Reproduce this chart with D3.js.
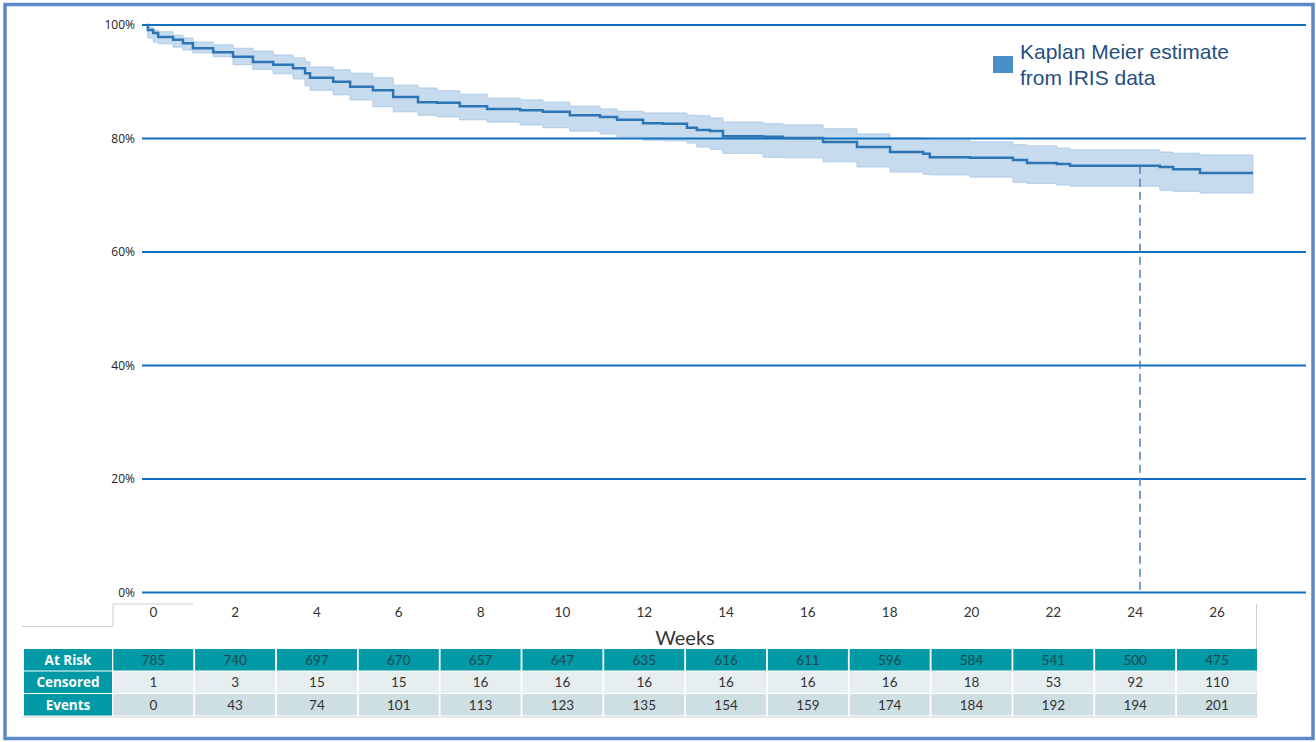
<!DOCTYPE html>
<meta charset="utf-8">
<script src="https://d3js.org/d3.v7.min.js"></script>
<style>
  body { margin: 0; background: #fff; }
  svg { display: block; }
</style>
<body>
<svg width="1316" height="742"></svg>
<script>
  // ---- data ----
  var weeks = [0, 0.02, 0.15, 0.27, 0.63, 0.87, 1.11, 1.6, 2.08, 2.56,
    3.05, 3.53, 3.82, 3.94, 4.5, 4.91, 5.46, 5.95, 6.55, 7.01,
    7.56, 8.22, 9.02, 9.57, 10.22, 10.95, 11.36, 11.99, 12.47, 13.05,
    13.29, 13.61, 13.92, 14.89, 15.37, 16.34, 17.16, 17.96, 18.76, 18.92,
    19.89, 20.93, 21.27, 21.99, 22.31, 24.48, 24.8, 25.45];
  var lastWeek = 26.73;
  var survival = [100, 99.1, 98.6, 97.9, 97.4, 96.8, 95.9, 95.2, 94.4, 93.5,
    93.0, 92.4, 91.5, 90.7, 90.0, 89.1, 88.5, 87.3, 86.4, 86.3,
    85.7, 85.2, 85.0, 84.7, 84.1, 83.8, 83.3, 82.7, 82.6, 81.9,
    81.5, 81.3, 80.4, 80.3, 80.1, 79.4, 78.5, 77.6, 77.3, 76.7,
    76.6, 76.2, 75.7, 75.5, 75.2, 75.0, 74.6, 73.9];
  var upper = [100, 99.6, 99.1, 98.8, 98.2, 97.7, 97.0, 96.5, 95.9, 95.4,
    94.7, 94.2, 93.5, 92.6, 92.1, 91.5, 90.7, 89.4, 88.9, 88.4,
    87.8, 87.1, 86.8, 86.4, 85.7, 85.2, 84.8, 84.5, 84.5, 84.1,
    84.0, 83.6, 82.9, 82.6, 82.4, 81.7, 80.8, 80.1, 79.9, 79.7,
    79.4, 78.9, 78.7, 78.3, 78.0, 77.6, 77.4, 77.1];
  var lower = [100, 97.7, 97.0, 96.7, 96.1, 95.6, 95.1, 94.4, 93.0, 92.2,
    91.4, 90.5, 89.3, 88.5, 87.7, 86.8, 85.6, 84.7, 84.1, 83.8,
    83.3, 82.9, 82.4, 81.9, 81.3, 80.8, 80.3, 79.7, 79.6, 79.2,
    78.5, 78.1, 77.4, 76.7, 76.6, 75.9, 75.0, 74.1, 73.7, 73.6,
    73.2, 72.3, 72.1, 71.8, 71.6, 70.9, 70.7, 70.4];

  var yTicks = [0, 20, 40, 60, 80, 100];
  var weekLabels = [0, 2, 4, 6, 8, 10, 12, 14, 16, 18, 20, 22, 24, 26];
  var rowNames = ['At Risk', 'Censored', 'Events'];
  var atRisk   = [785, 740, 697, 670, 657, 647, 635, 616, 611, 596, 584, 541, 500, 475];
  var censored = [1, 3, 15, 15, 16, 16, 16, 16, 16, 16, 18, 53, 92, 110];
  var events   = [0, 43, 74, 101, 113, 123, 135, 154, 159, 174, 184, 192, 194, 201];
  var markWeek = 24;
  var legendLines = ['Kaplan Meier estimate', 'from IRIS data'];

  var svg = d3.select('svg');

  var x = d3.scaleLinear().domain([0, 27]).range([147, 1264.1]);
  var y = d3.scaleLinear().domain([0, 100]).range([592.5, 25]);

  var km = weeks.map(function(w, i){
    return {w: w, s: survival[i], lo: lower[i], hi: upper[i]};
  });
  var last = km[km.length - 1];
  km.push({w: lastWeek, s: last.s, lo: last.lo, hi: last.hi});

  /* ----------- frame ----------- */
  svg.append('rect')
    .attr('x', 5).attr('y', 4.5)
    .attr('width', 1308).attr('height', 734)
    .attr('fill', 'none')
    .attr('stroke', '#5b89c6')
    .attr('stroke-width', 3.5);

  /* ----------- confidence band ----------- */
  var band = d3.area()
    .curve(d3.curveStepAfter)
    .x(function(d){ return x(d.w); })
    .y0(function(d){ return y(d.lo); })
    .y1(function(d){ return y(d.hi); });

  svg.append('path')
    .datum(km)
    .attr('d', band)
    .attr('fill', '#c6dbed')
    .attr('stroke', '#aecbe6')
    .attr('stroke-width', 1);

  /* ----------- grid + y labels ----------- */
  svg.selectAll('line.grid').data(yTicks).enter()
    .append('line')
    .attr('class', 'grid')
    .attr('x1', 142).attr('x2', 1306)
    .attr('y1', function(d){ return y(d); })
    .attr('y2', function(d){ return y(d); })
    .attr('stroke', '#1170c0')
    .attr('stroke-width', 2);

  svg.selectAll('text.ylab').data(yTicks).enter()
    .append('text')
    .attr('class', 'ylab')
    .attr('x', 135)
    .attr('y', function(d){ return y(d); })
    .attr('dy', '0.35em')
    .attr('text-anchor', 'end')
    .attr('font-family', 'Open Sans, sans-serif')
    .attr('font-size', 12)
    .attr('fill', '#222')
    .text(function(d){ return d + '%'; });

  /* ----------- 24 week marker ----------- */
  var markPoint = km.filter(function(d){ return d.w <= markWeek; }).pop();
  svg.append('line')
    .attr('x1', x(markWeek)).attr('x2', x(markWeek))
    .attr('y1', y(markPoint.s))
    .attr('y2', y(0))
    .attr('stroke', '#4a7fc0')
    .attr('stroke-width', 1.5)
    .attr('stroke-dasharray', '8,5');

  /* ----------- KM line ----------- */
  var line = d3.line()
    .curve(d3.curveStepAfter)
    .x(function(d){ return x(d.w); })
    .y(function(d){ return y(d.s); });

  svg.append('path')
    .datum(km)
    .attr('d', line)
    .attr('fill', 'none')
    .attr('stroke', '#2e75b6')
    .attr('stroke-width', 2.5);

  /* ----------- legend ----------- */
  svg.append('rect')
    .attr('x', 993).attr('y', 56)
    .attr('width', 20).attr('height', 17)
    .attr('fill', '#4a90c8');

  svg.selectAll('text.leg').data(legendLines).enter()
    .append('text')
    .attr('class', 'leg')
    .attr('x', 1020)
    .attr('y', function(d, i){ return 59 + i * 26; })
    .attr('font-family', 'Liberation Sans, Arial, sans-serif')
    .attr('font-size', 21)
    .attr('fill', '#254f80')
    .text(function(d){ return d; });

  /* ----------- risk table ----------- */
  var col = d3.scaleBand().domain(weekLabels).range([113.3, 1257]).paddingInner(0.022);
  var rowY = [649, 671.5, 694];
  var rowH = 21.5;
  var cellFill = ['#0099a5', '#e6eef0', '#cddfe3'];
  var tableFont = 'Lato, Open Sans, sans-serif';

  // thin grey outline bits of the table
  svg.append('path')
    .attr('d', 'M22,626.5H113V604H193M1256.5,604V717M22,717H1257')
    .attr('fill', 'none')
    .attr('stroke', '#d0d0d0')
    .attr('stroke-width', 1);

  svg.selectAll('text.xlab').data(weekLabels).enter()
    .append('text')
    .attr('class', 'xlab')
    .attr('x', function(d){ return col(d) + col.bandwidth() / 2; })
    .attr('y', 612)
    .attr('dy', '0.35em')
    .attr('text-anchor', 'middle')
    .attr('font-family', tableFont)
    .attr('font-size', 13.5)
    .attr('fill', '#333')
    .text(function(d){ return d; });

  svg.append('text')
    .attr('x', 685).attr('y', 638)
    .attr('dy', '0.35em')
    .attr('text-anchor', 'middle')
    .attr('font-family', tableFont)
    .attr('font-size', 20)
    .attr('fill', '#333')
    .text('Weeks');

  var rows = [atRisk, censored, events];

  rows.forEach(function(vals, r){
    svg.append('rect')
      .attr('x', 24).attr('y', rowY[r])
      .attr('width', 88).attr('height', rowH)
      .attr('fill', '#0099a5');
    svg.append('text')
      .attr('x', 68).attr('y', rowY[r] + rowH / 2)
      .attr('dy', '0.36em')
      .attr('text-anchor', 'middle')
      .attr('font-family', 'Open Sans, sans-serif')
      .attr('font-weight', 'bold')
      .attr('font-size', 13.5)
      .attr('fill', '#fff')
      .text(rowNames[r]);

    var g = svg.append('g');
    g.selectAll('rect').data(vals).enter()
      .append('rect')
      .attr('x', function(d, i){ return col(weekLabels[i]); })
      .attr('y', rowY[r])
      .attr('width', col.bandwidth())
      .attr('height', rowH)
      .attr('fill', cellFill[r]);
    g.selectAll('text').data(vals).enter()
      .append('text')
      .attr('x', function(d, i){ return col(weekLabels[i]) + col.bandwidth() / 2; })
      .attr('y', rowY[r] + rowH / 2)
      .attr('dy', '0.36em')
      .attr('text-anchor', 'middle')
      .attr('font-family', tableFont)
      .attr('font-size', 13.5)
      .attr('fill', r === 0 ? '#1d4a50' : '#333')
      .text(function(d){ return d; });
  });
</script>
</body>
